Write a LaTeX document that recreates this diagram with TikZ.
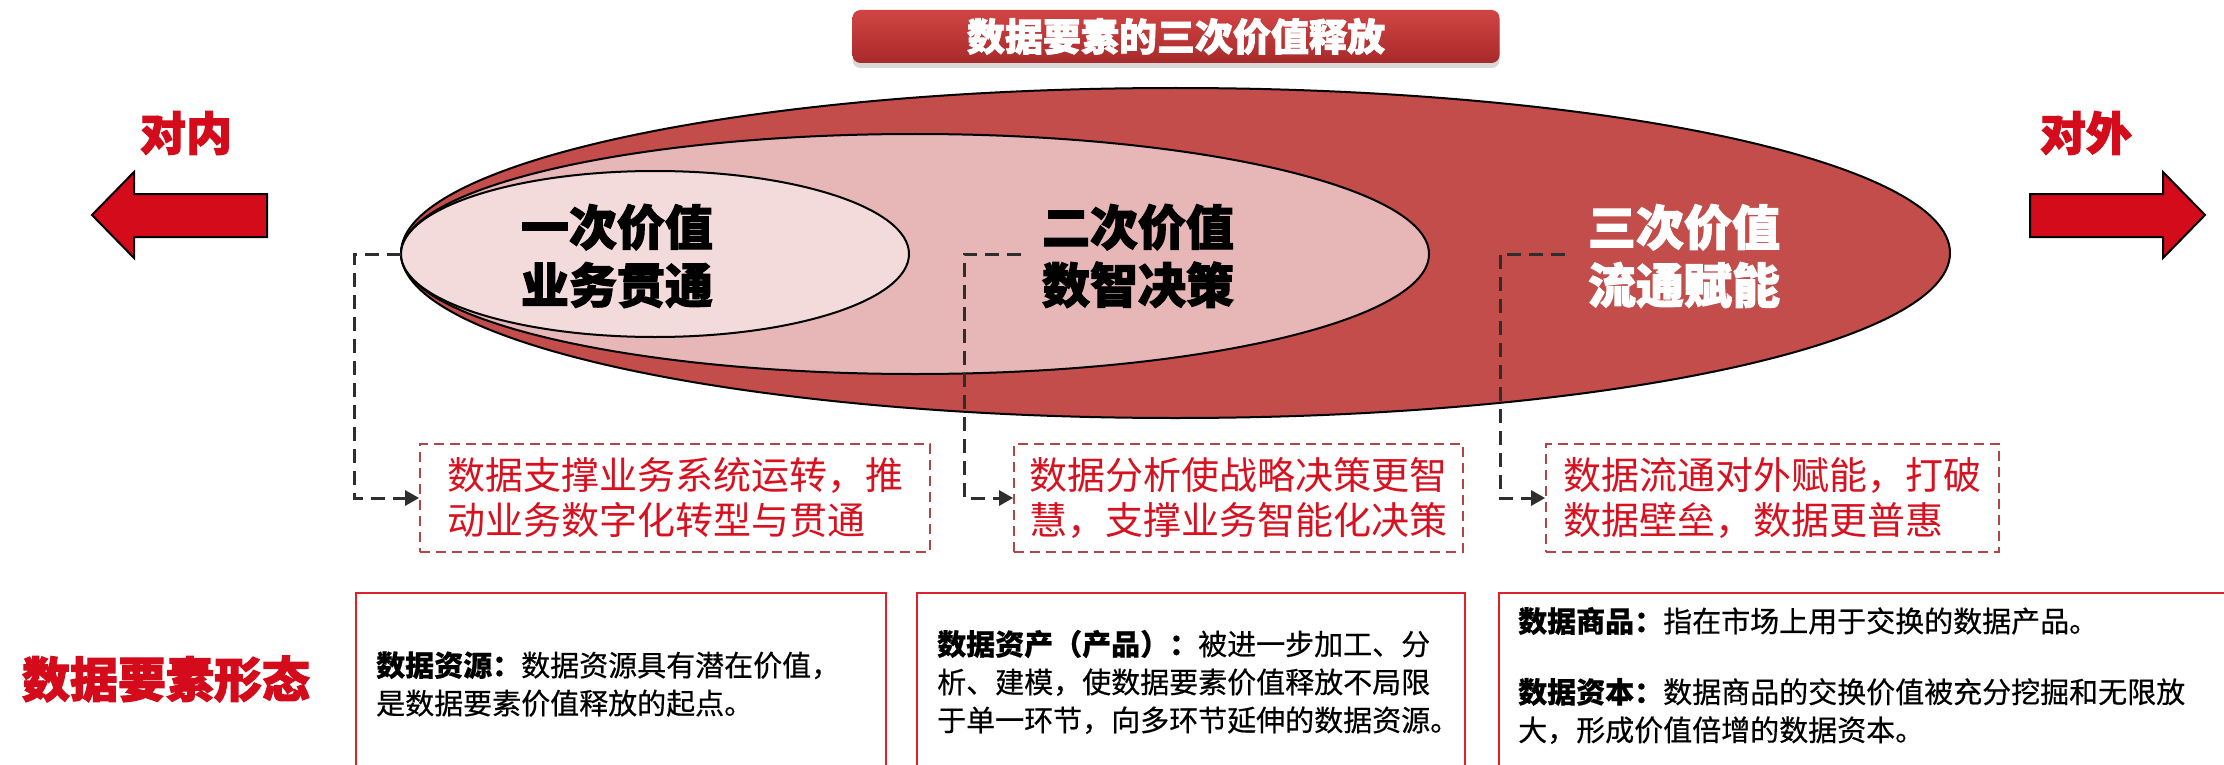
\documentclass[tikz,border=0pt]{standalone}
\usepackage{fontspec}
\setmainfont{Noto Sans CJK SC}
\newfontfamily\heavy[BoldFeatures={FakeBold=2.2}]{Noto Sans CJK SC}
\newfontfamily\bodyf[FakeBold=0.5]{Noto Sans CJK SC}
\usetikzlibrary{shapes.geometric,arrows.meta,shadows}
\definecolor{outerred}{HTML}{C24D4A}
\definecolor{midpink}{HTML}{E6B7B6}
\definecolor{innerpink}{HTML}{F2DBDA}
\definecolor{arrowred}{HTML}{D40B1A}
\definecolor{txtred}{HTML}{D7111F}
\definecolor{dboxred}{HTML}{B24545}
\definecolor{boxred}{HTML}{E0202C}
\definecolor{conngray}{HTML}{2E2E2E}
\definecolor{bartop}{HTML}{D24444}
\definecolor{barbot}{HTML}{A82A2A}
\begin{document}
\begin{tikzpicture}[x=1pt,y=-1pt,
  ell/.style={ellipse, draw=black, line width=2pt, inner sep=0pt, outer sep=0pt},
  biglbl/.style={font=\fontsize{48pt}{58pt}\selectfont\heavy\bfseries, align=center, inner sep=0pt},
  redlbl/.style={font=\fontsize{46pt}{50pt}\selectfont\heavy\bfseries, text=arrowred, inner sep=0pt},
  dbox/.style={draw=dboxred, line width=1.8pt, dash pattern=on 10pt off 6pt, minimum height=108pt, inner sep=0pt, align=left, text=txtred, font=\fontsize{38pt}{45pt}\selectfont},
  conn/.style={draw=conngray, line width=3pt, dash pattern=on 14pt off 8pt, -{Triangle[length=14pt,width=15pt]}},
  sbox/.style={draw=boxred, line width=2.5pt, minimum height=200pt, inner sep=0pt},
  btxt/.style={anchor=west, align=left, inner sep=0pt, font=\fontsize{29pt}{38pt}\selectfont\bodyf},
  blockarrow/.style={fill=arrowred, draw=black, line width=2pt, line join=miter}
]
\useasboundingbox (0,0) rectangle (2224,765);
\fill[white] (0,0) rectangle (2224,765);

% title bar
\node[rounded corners=8pt, minimum width=647pt, minimum height=53pt, inner sep=0pt,
      top color=bartop, bottom color=barbot,
      drop shadow={shadow xshift=0pt, shadow yshift=-5pt, opacity=0.3},
      text=white, font=\fontsize{38pt}{40pt}\selectfont\heavy\bfseries] (title) at (1176,36.5) {数据要素的三次价值释放};

% ellipses
\node[ell, fill=outerred, minimum width=1549pt, minimum height=330pt] (outer) at (1175.5,253) {};
\node[ell, fill=midpink, minimum width=1028pt, minimum height=240pt] (mid) at (915,254) {};
\node[ell, fill=innerpink, minimum width=508pt, minimum height=166pt] (inner) at (655,254) {};

\node[biglbl] (l1) at (617,256) {一次价值\\业务贯通};
\node[biglbl] (l2) at (1138,256) {二次价值\\数智决策};
\node[biglbl, text=white] (l3) at (1684,256) {三次价值\\流通赋能};

% side labels and block arrows
\node[redlbl] (in) at (186,133) {对内};
\node[redlbl] (out) at (2086,133) {对外};
\draw[blockarrow] (92,215) -- (134,172) -- (134,194) -- (267,194) -- (267,237) -- (134,237) -- (134,258) -- cycle;
\draw[blockarrow] (2205,215) -- (2163,172) -- (2163,194) -- (2030,194) -- (2030,237) -- (2163,237) -- (2163,258) -- cycle;

% dashed boxes
\node[dbox, minimum width=510pt] (b1) at (675,498) {数据支撑业务系统运转，推\\动业务数字化转型与贯通};
\node[dbox, minimum width=449pt] (b2) at (1238.5,498) {数据分析使战略决策更智\\慧，支撑业务智能化决策};
\node[dbox, minimum width=453pt] (b3) at (1772.5,498) {数据流通对外赋能，打破\\数据壁垒，数据更普惠};

% connectors
\coordinate (c2) at (1021,254);
\coordinate (c3) at (1565,254);
\draw[conn] (inner.west) -- ++(-47,0) |- (b1.west);
\draw[conn] (c2) -- ++(-57,0) |- (b2.west);
\draw[conn] (c3) -- ++(-65,0) |- (b3.west);

% bottom row
\node[font=\fontsize{48pt}{50pt}\selectfont\heavy\bfseries, text=arrowred, inner sep=0pt] (form) at (166,679) {数据要素形态};
\begin{scope}
\clip (0,0) rectangle (2224,765);
\node[sbox, minimum width=530pt] (sa) at (621,693) {};
\node[sbox, minimum width=548pt] (sb) at (1191,693) {};
\node[sbox, minimum width=745pt] (sc) at (1871.5,693) {};
\end{scope}
\node[btxt] (ta) at (376,684) {{\bfseries 数据资源：}数据资源具有潜在价值，\\是数据要素价值释放的起点。};
\node[btxt] (tb) at (937,682) {{\bfseries 数据资产（产品）：}被进一步加工、分\\析、建模，使数据要素价值释放不局限\\于单一环节，向多环节延伸的数据资源。};
\node[btxt] (tc1) at (1518,621) {{\bfseries 数据商品：}指在市场上用于交换的数据产品。};
\node[btxt] (tc2) at (1518,711) {{\bfseries 数据资本：}数据商品的交换价值被充分挖掘和无限放\\大，形成价值倍增的数据资本。};
\end{tikzpicture}
\end{document}
